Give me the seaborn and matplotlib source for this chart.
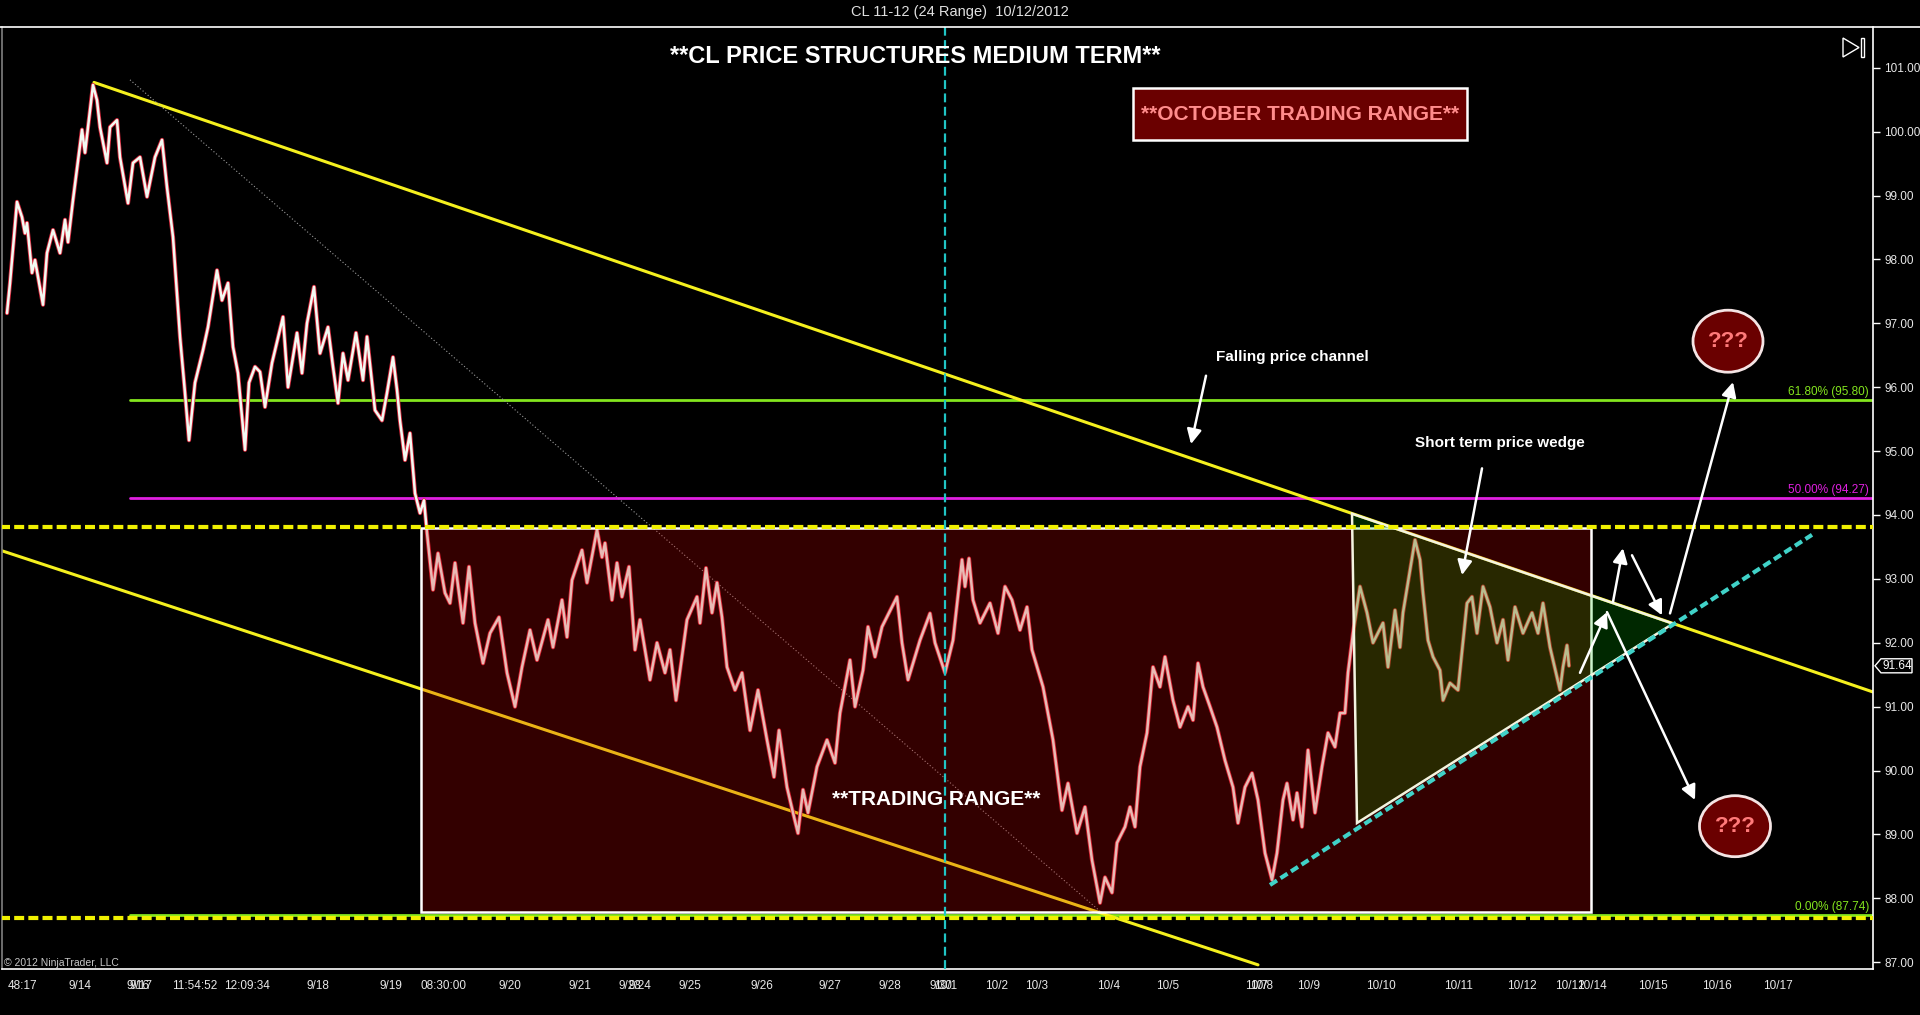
import matplotlib
matplotlib.use("Agg")
import pandas as pd
import matplotlib.pyplot as plt
import seaborn as sns
from matplotlib.patches import Rectangle, Polygon, Ellipse
from matplotlib.lines import Line2D

# Swing points of the CL 24-range bars: bar slot along the x axis and price
bar_slot = [7, 10, 17, 22, 25, 27, 32, 35, 43, 47, 53, 60, 65, 68, 73, 82, 85, 93, 97, 100,
            107, 110, 117, 120, 128, 133, 140, 147, 155, 162, 167, 173, 180, 185, 189, 195, 203, 208, 217, 222,
            228, 233, 238, 245, 249, 255, 260, 265, 272, 283, 288, 297, 302, 307, 314, 320, 328, 333, 338, 343,
            348, 356, 363, 367, 375, 382, 387, 393, 397, 400, 405, 410, 415, 420, 424, 427, 433, 438, 445, 450,
            455, 463, 469, 475, 483, 490, 499, 507, 515, 522, 530, 537, 548, 553, 562, 567, 572, 582, 587, 597,
            602, 605, 612, 617, 622, 629, 635, 640, 650, 657, 665, 670, 676, 687, 697, 700, 706, 712, 717, 722,
            727, 735, 742, 750, 758, 767, 774, 779, 787, 793, 798, 803, 808, 817, 827, 835, 840, 850, 855, 863,
            868, 875, 882, 897, 902, 908, 920, 930, 935, 945, 953, 962, 965, 969, 973, 980, 990, 998, 1005, 1012,
            1020, 1027, 1032, 1043, 1053, 1062, 1068, 1077, 1085, 1092, 1100, 1105, 1112, 1117, 1125, 1130, 1135, 1140, 1147, 1153,
            1160, 1165, 1173, 1180, 1188, 1193, 1198, 1203, 1210, 1217, 1225, 1233, 1238, 1245, 1252, 1258, 1265, 1272, 1277, 1283,
            1287, 1293, 1297, 1302, 1308, 1315, 1322, 1328, 1335, 1340, 1345, 1348, 1353, 1360, 1367, 1373, 1383, 1388, 1395, 1400,
            1403, 1410, 1415, 1420, 1423, 1428, 1433, 1440, 1443, 1450, 1458, 1467, 1472, 1477, 1483, 1490, 1497, 1503, 1508, 1515,
            1523, 1532, 1538, 1543, 1550, 1560, 1563, 1567, 1569]
close = [97.16, 97.63, 98.90, 98.66, 98.41, 98.57, 97.79, 97.99, 97.29, 98.10, 98.46, 98.10, 98.62, 98.27, 98.93, 100.03, 99.67, 100.73, 100.49, 100.07,
         99.51, 100.07, 100.18, 99.60, 98.88, 99.51, 99.60, 98.98, 99.60, 99.87, 99.13, 98.35, 96.79, 95.91, 95.17, 96.07, 96.58, 96.94, 97.83, 97.36,
         97.63, 96.63, 96.22, 95.02, 96.07, 96.32, 96.24, 95.69, 96.38, 97.10, 96.00, 96.85, 96.22, 97.00, 97.57, 96.53, 96.94, 96.32, 95.75, 96.53,
         96.11, 96.85, 96.11, 96.79, 95.64, 95.48, 95.91, 96.47, 95.96, 95.48, 94.86, 95.28, 94.34, 94.03, 94.23, 93.72, 92.83, 93.40, 92.78, 92.62,
         93.25, 92.31, 93.19, 92.31, 91.68, 92.15, 92.40, 91.53, 91.00, 91.62, 92.20, 91.73, 92.36, 91.93, 92.67, 92.09, 92.98, 93.45, 92.94, 93.77,
         93.34, 93.56, 92.67, 93.25, 92.72, 93.19, 91.89, 92.36, 91.42, 92.00, 91.53, 91.89, 91.10, 92.36, 92.72, 92.31, 93.17, 92.47, 92.94, 92.40,
         91.62, 91.26, 91.53, 90.63, 91.26, 90.48, 89.90, 90.63, 89.74, 89.34, 89.02, 89.70, 89.34, 90.06, 90.48, 90.12, 90.90, 91.73, 91.00, 91.57,
         92.25, 91.78, 92.25, 92.72, 92.00, 91.42, 92.04, 92.46, 92.00, 91.53, 92.04, 93.30, 92.88, 93.32, 92.67, 92.31, 92.62, 92.15, 92.88, 92.67,
         92.20, 92.56, 91.89, 91.31, 90.48, 89.38, 89.80, 89.02, 89.43, 88.60, 87.93, 88.33, 88.09, 88.87, 89.12, 89.43, 89.12, 90.06, 90.59, 91.62,
         91.31, 91.78, 91.10, 90.68, 91.00, 90.79, 91.68, 91.31, 91.00, 90.68, 90.16, 89.74, 89.18, 89.74, 89.96, 89.54, 88.71, 88.29, 88.71, 89.54,
         89.80, 89.23, 89.65, 89.12, 90.32, 89.34, 90.06, 90.59, 90.37, 90.90, 90.90, 91.53, 92.15, 92.88, 92.47, 92.00, 92.31, 91.62, 92.51, 91.93,
         92.47, 93.14, 93.61, 93.30, 92.78, 92.04, 91.78, 91.57, 91.10, 91.37, 91.26, 92.62, 92.72, 92.15, 92.88, 92.56, 92.00, 92.36, 91.73, 92.56,
         92.15, 92.47, 92.15, 92.62, 91.93, 91.26, 91.62, 91.96, 91.64]

# x axis ticks (range bars, so dates are unevenly spaced)
tick_slot = [8, 60, 80, 138, 141, 195, 247, 318, 371, 391, 444, 510, 580, 630, 640, 690, 762,
             830, 890, 941, 946, 997, 1037, 1109, 1168, 1221, 1257, 1262, 1309, 1381, 1434, 1458,
             1522, 1570, 1592, 1653, 1717, 1778]
tick_label = ['48:17', '', '9/14', '9/16', '9/17', '11:54:52', '12:09:34', '9/18', '', '9/19', '08:30:00',
              '9/20', '9/21', '9/23', '9/24', '9/25', '9/26', '9/27', '9/28', '9/30', '10/1', '10/2', '10/3',
              '10/4', '10/5', '', '10/7', '10/8', '10/9', '10/10', '', '10/11', '10/12', '10/12', '10/14',
              '10/15', '10/16', '10/17']
price_ticks = list(range(87, 102))

# fibonacci levels
fib_name = ['61.80%', '50.00%', '0.00%']
fib_price = [95.80, 94.27, 87.74]
fib_start = 130

# drawn structures
range_slots = [421, 1591]
range_prices = [87.79, 93.80]
range_dash_prices = [93.81, 87.70]
channel_upper_x = [94, 1873]
channel_upper_y = [100.77, 91.23]
channel_lower_x = [0, 1258]
channel_lower_y = [93.45, 86.96]
diag_x = [130, 1100]
diag_y = [100.81, 87.80]
wedge_slot = [1352, 1357, 1673]
wedge_price = [94.02, 89.18, 92.30]
support_x = [1270, 1812]
support_y = [88.21, 93.69]
month_slot = 945
last_price = 91.64

# scenario arrows: (from slot, from price, to slot, to price)
arrows = [(1206, 96.18, 1191, 95.11),
          (1482, 94.73, 1462, 93.06),
          (1580, 91.53, 1607, 92.48),
          (1613, 92.64, 1623, 93.48),
          (1632, 93.37, 1662, 92.43),
          (1670, 92.46, 1733, 96.08),
          (1607, 92.48, 1695, 89.54)]

W, H = 1920, 1015
sns.set_theme(style="dark", rc={"axes.facecolor": "black", "figure.facecolor": "black",
                                "savefig.facecolor": "black", "axes.grid": False})
plt.rcParams['font.family'] = ['Liberation Sans', 'DejaVu Sans']

fig = plt.figure(figsize=(W / 100, H / 100), dpi=100)
ax = fig.add_axes([2 / W, (H - 969) / H, 1871 / W, 942 / H])
ax.set_xlim(2, 1873)
ax.set_ylim(86.895, 101.637)


def fpx(x, y):
    return x / W, 1 - y / H


df = pd.DataFrame({'slot': bar_slot, 'close': close})

# fib lines
fib_colors = ['#84e61e', '#e020e0', '#84e61e']
for name, lvl, c in zip(fib_name, fib_price, fib_colors):
    ax.plot([fib_start, 1873], [lvl, lvl], color=c, lw=2, zorder=2)
    ax.text(1869, lvl + 0.03, f'{name} ({lvl:.2f})', color=c, fontsize=8.5,
            ha='right', va='bottom', zorder=7)

# channel lines and diagonal
ax.plot(channel_upper_x, channel_upper_y, color='#f5f01e', lw=2.2, zorder=2)
ax.plot(channel_lower_x, channel_lower_y, color='#f5f01e', lw=2.2, zorder=2)
ax.plot(diag_x, diag_y, color='#9a9a9a', lw=0.8, ls=(0, (1, 2)), zorder=2)

# price path, drawn like candles: red outline under a pale body
sns.lineplot(data=df, x='slot', y='close', ax=ax, color='#d8283c', lw=3.0,
             sort=False, estimator=None, zorder=3)
sns.lineplot(data=df, x='slot', y='close', ax=ax, color='#f2faf2', lw=1.8,
             sort=False, estimator=None, zorder=3)

# trading range box
ax.add_patch(Rectangle((range_slots[0], range_prices[0]), range_slots[1] - range_slots[0],
                       range_prices[1] - range_prices[0], facecolor=(0.8, 0, 0), alpha=0.25,
                       edgecolor='none', zorder=4))
ax.add_patch(Rectangle((range_slots[0], range_prices[0]), range_slots[1] - range_slots[0],
                       range_prices[1] - range_prices[0], fill=False, edgecolor='white',
                       lw=1.8, zorder=4))

# wedge
wedge_xy = list(zip(wedge_slot, wedge_price))
ax.add_patch(Polygon(wedge_xy, closed=True, facecolor=(0, 0.8, 0), alpha=0.2,
                     edgecolor='none', zorder=5))
ax.add_patch(Polygon(wedge_xy, closed=True, fill=False, edgecolor='#f4f4e0', lw=1.8, zorder=5))

# dashed range boundaries
for lvl in range_dash_prices:
    ax.plot([0, 1873], [lvl, lvl], color='#f0f000', lw=3, ls=(0, (2.4, 1)), zorder=6)

# support line and month marker
ax.plot(support_x, support_y, color='#40d2c8', lw=3, ls=(0, (2, 1)), zorder=6)
ax.axvline(month_slot, color='#20c4c4', lw=1.6, ls=(0, (4, 2)), zorder=6)

# texts
ax.text(915, 101.17, '**CL PRICE STRUCTURES MEDIUM TERM**', color='white', fontsize=17,
        fontweight='bold', ha='center', va='center', zorder=7)
ax.add_patch(Rectangle((1133, 99.87), 334, 0.81, facecolor='#6a0000', edgecolor='white',
                       lw=1.8, zorder=7))
ax.text(1300, 100.27, '**OCTOBER TRADING RANGE**', color='#ff8c8c', fontsize=15,
        fontweight='bold', ha='center', va='center', zorder=8)
ax.text(936, 89.54, '**TRADING RANGE**', color='white', fontsize=15,
        fontweight='bold', ha='center', va='center', zorder=7)
ax.text(1292, 96.47, 'Falling price channel', color='white', fontsize=11,
        fontweight='bold', ha='center', va='center', zorder=7)
ax.text(1500, 95.13, 'Short term price wedge', color='white', fontsize=11,
        fontweight='bold', ha='center', va='center', zorder=7)

for cx, cy, w, h in [(1728, 96.72, 70, 0.97), (1735, 89.13, 71, 0.955)]:
    ax.add_patch(Ellipse((cx, cy), w, h, facecolor='#6a0000', edgecolor='#f4e4e4',
                         lw=2, zorder=7))
    ax.text(cx, cy, '???', color='#ff7a7a', fontsize=16, fontweight='bold',
            ha='center', va='center', zorder=8)

for x0, y0, x1, y1 in arrows:
    ax.annotate('', xy=(x1, y1), xytext=(x0, y0),
                arrowprops=dict(arrowstyle='-|>', color='white', lw=1.8,
                                mutation_scale=22, shrinkA=0, shrinkB=0), zorder=8)

ax.text(4, 86.99, '\u00a9 2012 NinjaTrader, LLC', color='#c8c8c8', fontsize=7.5,
        ha='left', va='center', zorder=7)

# axes styling
ax.yaxis.tick_right()
ax.set_yticks(price_ticks)
ax.set_yticklabels([f'{p:.2f}' for p in price_ticks])
ax.set_xticks(tick_slot)
ax.set_xticklabels(tick_label)
ax.get_xticklabels()[0].set_horizontalalignment('left')
ax.tick_params(axis='both', colors='white', labelcolor='#e8e8e8', labelsize=8.5,
               direction='out', length=5, width=1, pad=3)
ax.set_xlabel('')
ax.set_ylabel('')
for side in ['left', 'right', 'bottom']:
    ax.spines[side].set_visible(True)
    ax.spines[side].set_color('white')
    ax.spines[side].set_linewidth(1.2)
ax.spines['top'].set_visible(False)
ax.spines['left'].set_color('#808080')

# last price marker
ax.add_patch(Polygon([(1875, last_price), (1881, last_price + 0.11), (1912, last_price + 0.11),
                      (1912, last_price - 0.11), (1881, last_price - 0.11)], closed=True,
                     facecolor='black', edgecolor='white', lw=1, clip_on=False, zorder=9))
ax.text(1883, last_price, f'{last_price:.2f}', color='white', fontsize=8.5, ha='left',
        va='center', clip_on=False, zorder=10)

# window header
fig.add_artist(Line2D([0, 1], [1 - 27 / H, 1 - 27 / H], transform=fig.transFigure,
                      color='white', lw=1.2))
fig.text(0.5, 1 - 12 / H, 'CL 11-12 (24 Range)  10/12/2012', color='#e0e0e0',
         fontsize=10.5, ha='center', va='center')

# go-to-end icon
fig.add_artist(Polygon([fpx(1843, 38), fpx(1843, 57), fpx(1859, 47.5)], closed=True,
                       fill=False, edgecolor='white', lw=1, transform=fig.transFigure))
fig.add_artist(Polygon([fpx(1861, 38), fpx(1864, 38), fpx(1864, 57), fpx(1861, 57)],
                       closed=True, fill=False, edgecolor='white', lw=1,
                       transform=fig.transFigure))

fig.savefig('out.png', dpi=100, facecolor='black')
